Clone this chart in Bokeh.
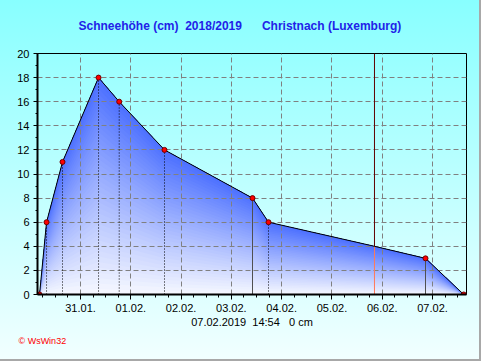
import numpy as np
import pandas as pd
from bokeh.plotting import figure
from bokeh.models import FixedTicker, DatetimeTickFormatter, Range1d, Title
from bokeh.embed import file_html
from bokeh.resources import INLINE

# ---------------- data ----------------
times = ["2019-01-30 04:26", "2019-01-30 07:47", "2019-01-30 15:24", "2019-01-31 08:36",
         "2019-01-31 18:28", "2019-02-01 16:05", "2019-02-03 10:05", "2019-02-03 17:43",
         "2019-02-05 20:18", "2019-02-06 20:39", "2019-02-07 14:54"]
snow_cm = [0, 6, 11, 18, 16, 12, 8, 6, 4, 3, 0]
drop_style = ["none", "dot", "dot", "dot", "dot", "dot", "solid", "dot", "now", "solid", "none"]
day_ticks = ["2019-01-31", "2019-02-01", "2019-02-02", "2019-02-03",
             "2019-02-04", "2019-02-05", "2019-02-06", "2019-02-07"]
y_ticks = [0, 2, 4, 6, 8, 10, 12, 14, 16, 18, 20]
title_text = "Schneehöhe (cm)\u00a0\u00a02018/2019\u00a0\u00a0\u00a0\u00a0\u00a0\u00a0Christnach (Luxemburg)"
footer_text = "07.02.2019\u00a0\u00a014:54\u00a0\u00a0\u00a00\u00a0cm"
credit_text = "\u00a9 WsWin32"
view_start, view_end = "2019-01-30 03:28", "2019-02-07 16:13"

EPOCH = pd.Timestamp("1970-01-01")
def ms(s):
    return (pd.Timestamp(s) - EPOCH).total_seconds() * 1000.0

X = np.array([ms(t) for t in times])
Y = np.array(snow_cm, dtype=float)
ticks_ms = [ms(d) for d in day_ticks]
six_h = 6 * 3600 * 1000.0
minor_ms = list(np.arange(ms("2019-01-30 06:00"), ms(view_end), six_h))

FONT = "Liberation Sans"

p = figure(width=481, height=361, x_axis_type="datetime", output_backend="svg",
           toolbar_location=None,
           x_range=Range1d(ms(view_start), ms(view_end)), y_range=Range1d(0, 20),
           min_border_left=37, min_border_right=15, min_border_top=53, min_border_bottom=67)
p.background_fill_alpha = 0
p.border_fill_alpha = 0
p.styles = {"background-image": "linear-gradient(#88ffff, #f2ffff)",
            "box-shadow": "inset -2px -2px 0 0 #a8a8a8"}
p.outline_line_color = "black"
p.outline_line_width = 1
p.outline_line_alpha = 1

# ---- gradient area fill (per column, curve = blue, bottom = white) ----
N = 40
c_bot = np.array([246, 248, 255])
c_top = np.array([76, 112, 255])
for k in range(N):
    s = k / N
    c = c_bot + (c_top - c_bot) * ((k + 0.5) / N)
    col = "#%02x%02x%02x" % tuple(int(round(v)) for v in c)
    r = p.varea(x=X, y1=Y * s, y2=Y, fill_color=col, fill_alpha=1)
    r.level = "image"

# ---- drop lines ----
for style, color, dash in [("dot", "black", "1 2"), ("solid", "#505050", "solid"), ("now", "#ff7a5a", "solid")]:
    idx = [i for i, st in enumerate(drop_style) if st == style]
    p.segment(x0=X[idx], y0=np.zeros(len(idx)), x1=X[idx], y1=Y[idx],
              line_color=color, line_width=1, line_dash=dash)
now_i = drop_style.index("now")
p.segment(x0=[X[now_i]], y0=[Y[now_i]], x1=[X[now_i]], y1=[20],
          line_color="#600000", line_width=1)

# ---- curve and markers ----
p.line(X, Y, line_color="black", line_width=1)
mk = [i for i in range(len(X)) if i != now_i]
p.scatter(X[mk], Y[mk], marker="circle", size=5, fill_color="#ff0000", line_color="#700000")

# ---- axes ----
p.xaxis.ticker = FixedTicker(ticks=ticks_ms, minor_ticks=minor_ms)
fmt = "%d.%m."
p.xaxis.formatter = DatetimeTickFormatter(days=fmt, months=fmt, hours=fmt, years=fmt)
p.yaxis.ticker = FixedTicker(ticks=y_ticks, minor_ticks=list(range(0, 21)))

for ax in (p.xaxis, p.yaxis):
    ax.axis_line_color = "black"
    ax.axis_line_width = 2
    ax.major_tick_line_color = "black"
    ax.minor_tick_line_color = "black"
    ax.major_tick_in = 0
    ax.minor_tick_in = 0
    ax.major_label_text_font = FONT
    ax.major_label_text_font_size = "11px"
    ax.major_label_text_color = "black"

p.yaxis.major_tick_out = 4
p.yaxis.minor_tick_out = 2
p.yaxis.major_label_standoff = 4
p.xaxis.major_tick_out = 5
p.xaxis.minor_tick_out = 3
p.xaxis.major_label_standoff = 4
p.xaxis.axis_label = footer_text
p.xaxis.axis_label_text_font = FONT
p.xaxis.axis_label_text_font_size = "11px"
p.xaxis.axis_label_text_font_style = "normal"
p.xaxis.axis_label_text_color = "black"
p.xaxis.axis_label_standoff = 1

# ---- grid ----
for g in (p.xgrid, p.ygrid):
    g.grid_line_color = "#808080"
    g.grid_line_dash = "5 3"
    g.grid_line_width = 1
    g.level = "underlay"
p.ygrid.ticker = FixedTicker(ticks=y_ticks[1:-1])

# ---- titles ----
p.title.text = title_text + "\n\u00a0"
p.title.align = "left"
p.title.offset = 41
p.title.text_font = FONT
p.title.text_font_size = "12px"
p.title.text_font_style = "bold"
p.title.text_color = "#2222e8"
p.title.vertical_align = "bottom"
p.title.standoff = 14

credit = Title(text=credit_text, align="left", offset=-19, text_font=FONT,
               text_font_size="9px", text_font_style="normal", text_color="#ff0000",
               standoff=6)
p.add_layout(credit, "below")

open("out.html", "w").write(file_html(p, INLINE))
